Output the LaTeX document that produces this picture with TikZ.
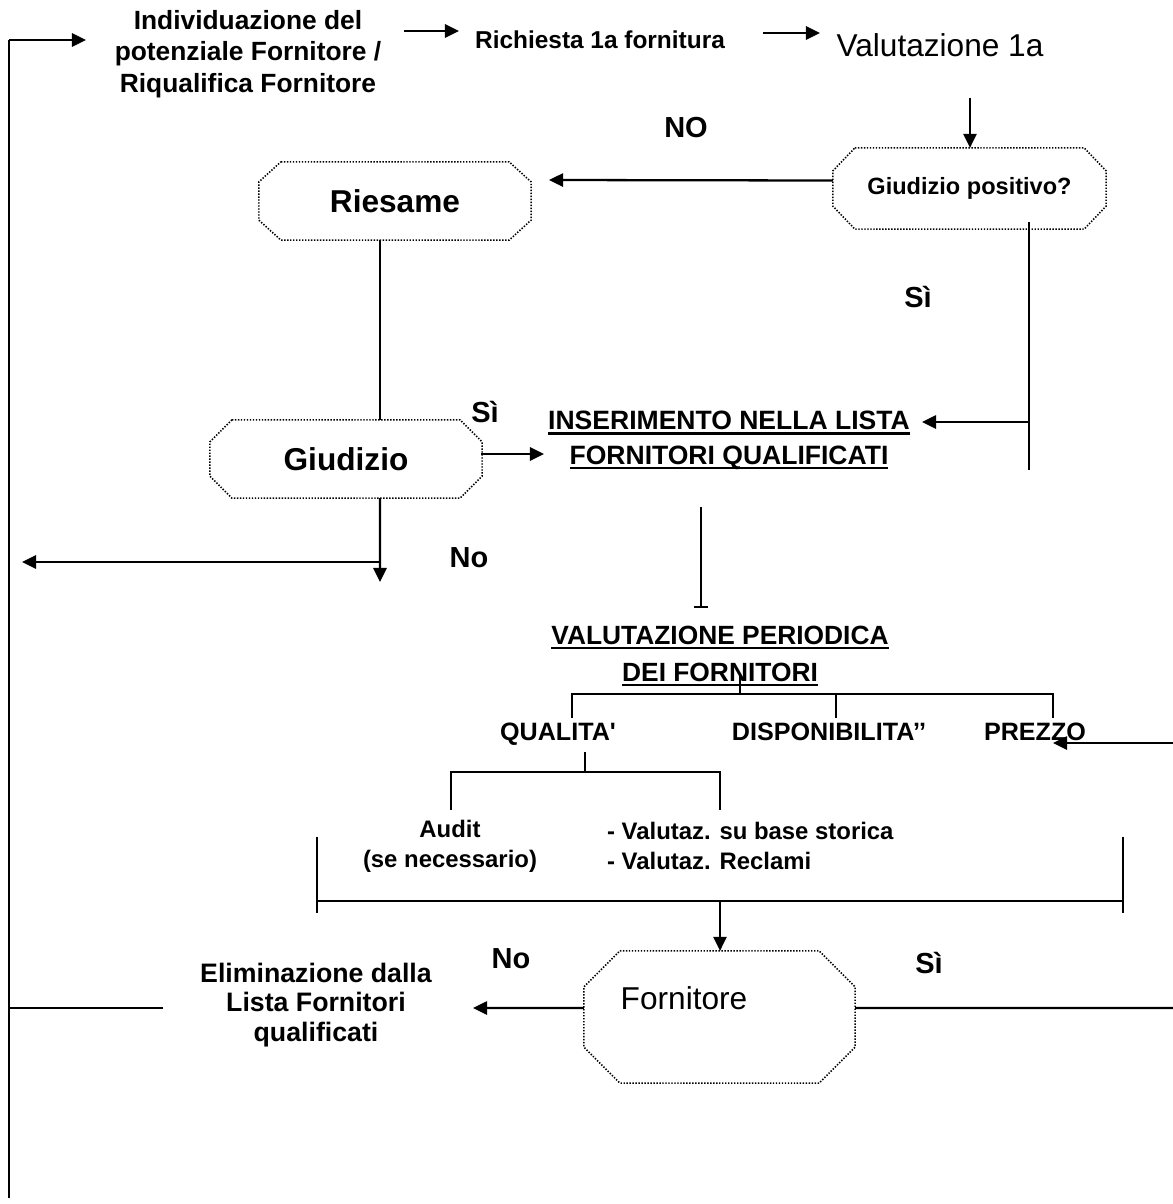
\documentclass[tikz,border=0pt]{standalone}
\usepackage{fontspec}
\setmainfont{Liberation Sans}
\usetikzlibrary{arrows.meta}

\newcommand{\ul}[1]{\setbox0\hbox{#1}\rlap{\rule[-3pt]{\wd0}{1.2pt}}\box0}
\newcommand{\octbox}[3]{%
  \draw[octline] ([xshift=#2]#1.north west) -- ([xshift=-#2]#1.north east)
    -- ([yshift=-#3]#1.north east) -- ([yshift=#3]#1.south east)
    -- ([xshift=-#2]#1.south east) -- ([xshift=#2]#1.south west)
    -- ([yshift=#3]#1.south west) -- ([yshift=-#3]#1.north west) -- cycle;}

\begin{document}
\begin{tikzpicture}[x=0.02cm,y=-0.02cm,line width=1.3pt,
    arr/.style={-{Triangle[length=8pt,width=7.5pt]}},
    tbar/.style={-{Bar[width=8pt]}},
    octline/.style={line width=0.9pt,dash pattern=on 0.8pt off 0.9pt},
    txt/.style={inner sep=0pt,align=center,font=\bfseries\fontsize{15}{18}\selectfont},
    big/.style={txt,font=\bfseries\fontsize{18}{21}\selectfont},
    plain/.style={txt,font=\fontsize{18}{21}\selectfont},
    yesno/.style={txt,font=\bfseries\fontsize{16.5}{19}\selectfont},
    small/.style={txt,font=\bfseries\fontsize{13.6}{17}\selectfont},
    crit/.style={txt,anchor=base,font=\bfseries\fontsize{14.3}{17}\selectfont}]
  \useasboundingbox (0,0) rectangle (1173,1204);

  \node[txt,font=\bfseries\fontsize{15}{17.9}\selectfont] (indiv) at (248,54) {Individuazione del\\potenziale Fornitore /\\Riqualifica Fornitore};
  \node[txt,font=\bfseries\fontsize{13.9}{16}\selectfont] (rich) at (600,40) {Richiesta 1a fornitura};
  \node[plain] (valut) at (940,45) {Valutazione 1a};
  \node[txt,font=\bfseries\fontsize{13.4}{16}\selectfont,minimum width=5.42cm,minimum height=1.58cm] (gpos) at (969.5,188.5) {Giudizio positivo?};
  \node[yesno] (no1) at (686,128) {NO};
  \node[big,minimum width=5.4cm,minimum height=1.52cm] (ries) at (395,201) {Riesame};
  \node[yesno] (si1) at (918,297) {Sì};
  \node[big,minimum width=5.4cm,minimum height=1.52cm] (giud) at (346,459) {Giudizio};
  \node[yesno] (si2) at (485,412) {Sì};
  \node[txt,font=\bfseries\fontsize{15.1}{19.8}\selectfont] (ins) at (729,440) {\ul{INSERIMENTO NELLA LISTA}\\\ul{FORNITORI QUALIFICATI}};
  \node[yesno] (no2) at (469,558) {No};
  \node[txt,font=\bfseries\fontsize{15}{21}\selectfont] (valper) at (720,656) {\ul{VALUTAZIONE PERIODICA}\\\ul{DEI FORNITORI}};
  \node[crit] (qual) at (558,740) {QUALITA\textquotesingle};
  \node[crit] (disp) at (829,740) {DISPONIBILITA’’};
  \node[crit] (prez) at (1035,740) {PREZZO};
  \node[small] (audit) at (450,846) {Audit\\(se necessario)};
  \node[small,align=left,anchor=west] (storia) at (606,846) {- Valutaz. su base storica\\- Valutaz. Reclami};
  \node[inner sep=0pt,minimum width=5.38cm,minimum height=2.6cm] (forn) at (719.5,1017) {};
  \node[plain] (fornt) at (684,998) {Fornitore};
  \node[yesno] (no3) at (511,959) {No};
  \node[yesno] (si3) at (929,963) {Sì};
  \node[txt,font=\bfseries\fontsize{15.2}{17}\selectfont] (elim) at (316,1005) {Eliminazione dalla\\Lista Fornitori\\qualificati};

  \octbox{gpos}{0.44cm}{0.46cm}
  \octbox{ries}{0.44cm}{0.4cm}
  \octbox{giud}{0.44cm}{0.44cm}
  \octbox{forn}{0.72cm}{0.72cm}

  \coordinate (ltop) at (9,40);
  \coordinate (lbot) at (9,1198);
  \coordinate (lmid) at (9,1008);
  \coordinate (indivin) at (86,40);
  \coordinate (i2r) at (404,31);
  \coordinate (richin) at (459,31);
  \coordinate (r2v) at (763,33);
  \coordinate (valin) at (820,33);
  \coordinate (vdown) at (970,98);
  \coordinate (riesin) at (549,180);
  \coordinate (sitop) at (1029,222);
  \coordinate (sibr) at (1029,422);
  \coordinate (sibot) at (1029,470);
  \coordinate (insin) at (922,422);
  \coordinate (giudout) at (481,454);
  \coordinate (insleft) at (544,454);
  \coordinate (gdown) at (380,582);
  \coordinate (gleft) at (380,562);
  \coordinate (glend) at (22,562);
  \coordinate (iv1) at (701,507);
  \coordinate (iv2) at (701,608);
  \coordinate (vp) at (740,675);
  \coordinate (vpb) at (740,694);
  \coordinate (pin) at (1173,743);
  \coordinate (ptip) at (1053,743);
  \coordinate (q1) at (585,752);
  \coordinate (q2) at (585,772);
  \coordinate (bfork) at (720,901);
  \coordinate (elimin) at (473,1008);
  \coordinate (fright) at (1173,1008);
  \coordinate (elout) at (163,1008);

  \draw (ltop) -- (lbot);
  \draw[arr] (ltop) -- (indivin);
  \draw[arr] (i2r) -- (richin);
  \draw[arr] (r2v) -- (valin);
  \draw[arr] (vdown) -- (vdown |- gpos.north);
  \draw[arr] ([yshift=0.16cm]gpos.west) -- (riesin);
  \draw (sitop) -- (sibot);
  \draw[arr] (sibr) -- (insin);
  \draw ([xshift=-0.3cm]ries.south) -- ([xshift=-0.3cm]ries.south |- giud.north);
  \draw[arr] (giudout) -- (insleft);
  \draw[arr] ([xshift=0.68cm]giud.south) -- (gdown);
  \draw[arr] (gleft) -- (glend);
  \draw[tbar] (iv1) -- (iv2);
  \draw (vp) -- (vpb);
  \draw (572,718) -- (572,694) -- (1053,694) -- (1053,718);
  \draw (836,694) -- (836,718);
  \draw[arr] (pin) -- (ptip);
  \draw (q1) -- (q2);
  \draw (451,810) -- (451,772) -- (720,772) -- (720,810);
  \draw (317,837) -- (317,913);
  \draw (1123,837) -- (1123,913);
  \draw (317,901) -- (1123,901);
  \draw[arr] (bfork) -- (bfork |- forn.north);
  \draw[arr] ([yshift=0.18cm]forn.west) -- (elimin);
  \draw ([yshift=0.18cm]forn.east) -- (fright);
  \draw (elout) -- (lmid);
\end{tikzpicture}
\end{document}
